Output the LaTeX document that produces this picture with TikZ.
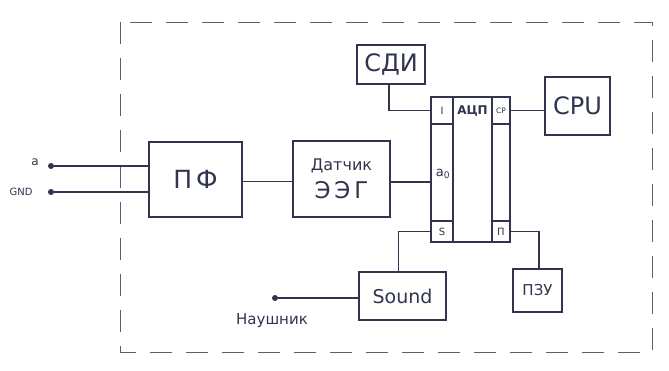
\documentclass[tikz,border=0pt]{standalone}
\usepackage{fontspec}
\setmainfont{DejaVu Sans}
\begin{document}
\begin{tikzpicture}[x=1pt,y=-1pt,
  ink/.style={draw=inkc, line width=1.2pt},
  box/.style={ink, rectangle, inner sep=0pt, text=inkc, align=center},
  cell/.style={ink, rectangle, inner sep=0pt, text=inkc, font=\fontsize{10}{10}\selectfont},
  wire/.style={draw=inkc, line width=1.2pt},
  term/.style={circle, fill=inkc, inner sep=0pt, minimum size=6pt},
  lbl/.style={text=inkc, inner sep=0pt}]
\definecolor{inkc}{RGB}{48,52,78}
\useasboundingbox (0,0) rectangle (669,371);
\fill[white] (0,0) rectangle (669,371);
% dashed frame
\draw[draw=inkc!80, line width=0.9pt, dash pattern=on 22pt off 14pt] (120,22) rectangle (652,352);
% boxes
\node[box, minimum width=93pt, minimum height=75pt, font=\fontsize{25}{25}\selectfont] (pf) at (195.5,179.5) {П\,Ф};
\node[box, minimum width=97pt, minimum height=76pt] (dat) at (341.5,179) {\fontsize{16}{16}\selectfont Датчик\\[7pt]\fontsize{23}{23}\selectfont Э\,Э\,Г};
\node[box, minimum width=68pt, minimum height=39pt, font=\fontsize{24}{24}\selectfont] (sdi) at (391,64.5) {СДИ};
\node[box, minimum width=65pt, minimum height=58pt, font=\fontsize{24}{24}\selectfont] (cpu) at (577.5,106) {CPU};
\node[box, minimum width=87pt, minimum height=48pt, font=\fontsize{19}{19}\selectfont] (snd) at (402.5,296) {Sound};
\node[box, minimum width=49pt, minimum height=43pt, font=\fontsize{15}{15}\selectfont] (pzu) at (537.5,290.5) {ПЗУ};
% ADC block
\node[cell, minimum width=22pt, minimum height=27pt] (ci) at (442,110.5) {I};
\node[cell, minimum width=22pt, minimum height=97pt] (cl) at (442,172.5) {};
\node[cell, minimum width=22pt, minimum height=21pt] (cs) at (442,231.5) {S};
\node[cell, minimum width=39pt, minimum height=145pt] (cm) at (472.5,169.5) {};
\node[cell, minimum width=18pt, minimum height=27pt, font=\fontsize{7.5}{7.5}\selectfont] (ccp) at (501,110.5) {CP};
\node[cell, minimum width=18pt, minimum height=97pt] (cr) at (501,172.5) {};
\node[cell, minimum width=18pt, minimum height=21pt] (cp) at (501,231.5) {П};
\node[lbl, font=\fontsize{12}{12}\selectfont\bfseries] (adcl) at (472.5,111) {АЦП};
\node[lbl, font=\fontsize{13}{13}\selectfont] (a0) at (443,174) {a\textsubscript{0}};
% terminals
\node[term] (ta) at (51,166) {};
\node[term] (tg) at (51,192) {};
\node[term] (th) at (275,298) {};
\node[lbl, font=\fontsize{12}{12}\selectfont] (la) at (35,162) {a};
\node[lbl, font=\fontsize{10}{10}\selectfont] (lg) at (21,192) {GND};
\node[lbl, font=\fontsize{15}{15}\selectfont] (lh) at (272,321) {Наушник};
% wires
\draw[wire] (ta) -- (ta -| pf.west);
\draw[wire] (tg) -- (tg -| pf.west);
\draw[wire] ([yshift=-2pt]pf.east) -- ([yshift=-2pt]pf.east -| dat.west);
\draw[wire] ([yshift=-3pt]dat.east) -- ([yshift=-3pt]dat.east -| cl.west);
\draw[wire] ([xshift=-2pt]sdi.south) |- (ci.west);
\draw[wire] (ccp.east) -- (ccp.east -| cpu.west);
\draw[wire] (cs.west) -| ([xshift=-4pt]snd.north);
\draw[wire] (cp.east) -| ([xshift=1.5pt]pzu.north);
\draw[wire] (th) -- (th -| snd.west);
\end{tikzpicture}
\end{document}
